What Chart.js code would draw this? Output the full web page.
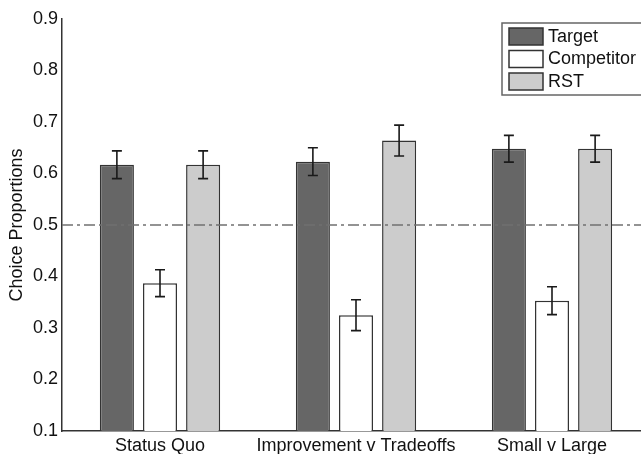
<!DOCTYPE html>
<html>
<head>
<meta charset="utf-8">
<script src="https://cdn.jsdelivr.net/npm/chart.js@4/dist/chart.umd.min.js"></script>
<style>
  html, body { margin: 0; padding: 0; background: #fff; overflow: hidden; }
  #wrap { position: relative; width: 660px; height: 454px; }
</style>
</head>
<body>
<div id="wrap"><canvas id="chartCanvas" width="660" height="454"></canvas></div>
<script>
// data
const categories = ['Status Quo', 'Improvement v Tradeoffs', 'Small v Large'];
const seriesNames = ['Target', 'Competitor', 'RST'];
const target = [0.617, 0.623, 0.648];
const competitor = [0.387, 0.325, 0.353];
const rst = [0.617, 0.664, 0.648];
const targetErr = [0.027, 0.027, 0.026];
const competitorErr = [0.026, 0.030, 0.027];
const rstErr = [0.027, 0.030, 0.026];
const yTicks = [0.1, 0.2, 0.3, 0.4, 0.5, 0.6, 0.7, 0.8, 0.9];
const chanceLevel = 0.5;

const fills = ['#666666', '#ffffff', '#cccccc'];
const errs = [targetErr, competitorErr, rstErr];
const FONT = "'Liberation Sans', Arial, Helvetica, sans-serif";

/**
 * Dash-dot reference line at chance level, drawn over the bars.
 */
const chanceLine = {
    id: 'chanceLine',
    afterDatasetsDraw(chart) {
        const { ctx, chartArea } = chart;
        const y = chart.scales.y.getPixelForValue(chanceLevel);
        ctx.save();
        ctx.strokeStyle = '#707070';
        ctx.lineWidth = 1.5;
        ctx.setLineDash([11, 4, 3, 4]);
        ctx.beginPath();
        ctx.moveTo(chartArea.left, y);
        ctx.lineTo(chartArea.right, y);
        ctx.stroke();
        ctx.restore();
    }
};

/**
 * Error bars for every bar, positioned from the bar metadata and y scale.
 */
const errorBars = {
    id: 'errorBars',
    afterDatasetsDraw(chart) {
        const { ctx } = chart;
        const yScale = chart.scales.y;
        ctx.save();
        ctx.strokeStyle = '#1a1a1a';
        ctx.lineWidth = 1.6;
        chart.data.datasets.forEach((ds, di) => {
            const meta = chart.getDatasetMeta(di);
            meta.data.forEach((bar, i) => {
                const v = ds.data[i];
                const e = errs[di][i];
                const top = yScale.getPixelForValue(v + e);
                const bot = yScale.getPixelForValue(v - e);
                const x = bar.x;
                ctx.beginPath();
                ctx.moveTo(x, top); ctx.lineTo(x, bot);
                ctx.moveTo(x - 5, top); ctx.lineTo(x + 5, top);
                ctx.moveTo(x - 5, bot); ctx.lineTo(x + 5, bot);
                ctx.stroke();
            });
        });
        ctx.restore();
    }
};

/**
 * Framed legend in the upper right corner.
 */
const boxLegend = {
    id: 'boxLegend',
    afterDraw(chart) {
        const { ctx } = chart;
        const x0 = 502, y0 = 23, w = 160, h = 72;
        ctx.save();
        ctx.fillStyle = '#ffffff';
        ctx.fillRect(x0, y0, w, h);
        ctx.strokeStyle = '#666666';
        ctx.lineWidth = 1.5;
        ctx.strokeRect(x0, y0, w, h);
        ctx.font = '18px ' + FONT;
        ctx.textBaseline = 'middle';
        seriesNames.forEach((name, i) => {
            const sy = y0 + 5 + i * 22.5;
            ctx.fillStyle = fills[i];
            ctx.fillRect(x0 + 7, sy, 34, 17);
            ctx.strokeStyle = '#333333';
            ctx.lineWidth = 1.5;
            ctx.strokeRect(x0 + 7, sy, 34, 17);
            ctx.fillStyle = '#111111';
            ctx.fillText(name, x0 + 46, sy + 9);
        });
        ctx.restore();
    }
};

const ctx = document.getElementById('chartCanvas').getContext('2d');
new Chart(ctx, {
    type: 'bar',
    data: {
        labels: categories,
        datasets: [target, competitor, rst].map((d, i) => ({
            label: seriesNames[i],
            data: d,
            backgroundColor: fills[i],
            borderColor: '#333333',
            borderWidth: 1.5,
            borderSkipped: false,
            categoryPercentage: 0.66,
            barPercentage: 0.79
        }))
    },
    options: {
        responsive: false,
        animation: false,
        layout: { padding: { left: 0, top: 19, right: 10, bottom: 0 } },
        plugins: {
            legend: { display: false },
            tooltip: { enabled: false }
        },
        scales: {
            x: {
                grid: { display: false, drawTicks: false },
                border: { display: true, color: '#333333', width: 1.5 },
                ticks: { color: '#111111', font: { family: FONT, size: 18 }, padding: 4, maxRotation: 0, autoSkip: false },
                afterFit(scale) { scale.height = 23; }
            },
            y: {
                min: 0.1,
                max: 0.9,
                grid: { display: false, drawTicks: false },
                border: { display: true, color: '#333333', width: 1.5 },
                afterBuildTicks(scale) { scale.ticks = yTicks.map(v => ({ value: v })); },
                ticks: {
                    color: '#111111',
                    font: { family: FONT, size: 18 },
                    padding: 4,
                    callback: v => v.toFixed(1)
                },
                title: {
                    display: true,
                    text: 'Choice Proportions',
                    color: '#111111',
                    font: { family: FONT, size: 18 },
                    padding: { top: 6, bottom: 0 }
                },
                afterFit(scale) { scale.width = 62; }
            }
        }
    },
    plugins: [chanceLine, errorBars, boxLegend]
});
</script>
</body>
</html>
